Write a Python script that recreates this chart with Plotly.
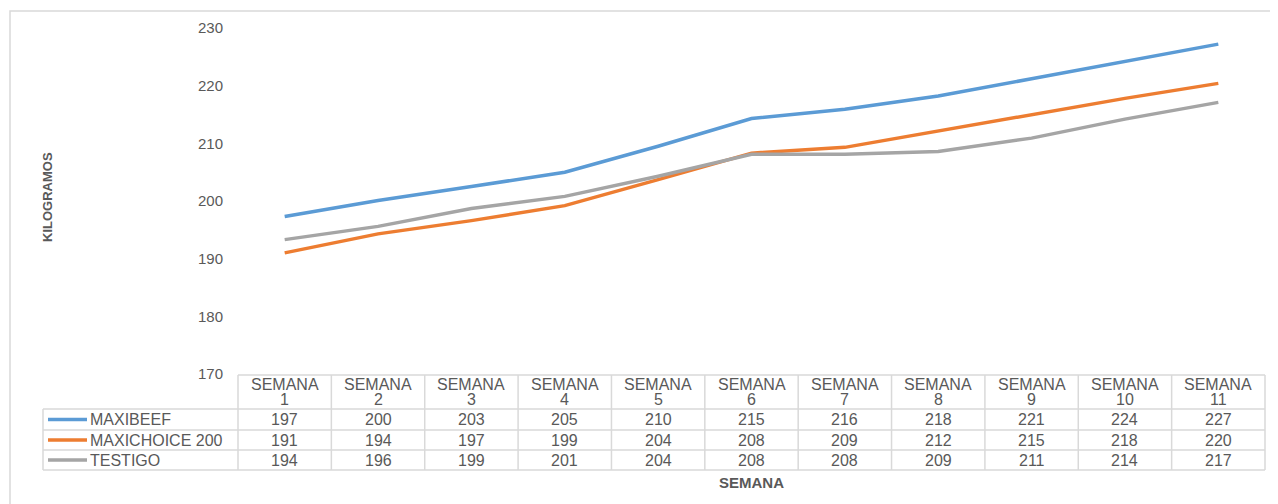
import plotly.graph_objects as go

weeks = ["SEMANA 1", "SEMANA 2", "SEMANA 3", "SEMANA 4", "SEMANA 5", "SEMANA 6",
         "SEMANA 7", "SEMANA 8", "SEMANA 9", "SEMANA 10", "SEMANA 11"]
series_names = ["MAXIBEEF", "MAXICHOICE 200", "TESTIGO"]

maxibeef = [197.3, 200.1, 202.5, 205.0, 209.5, 214.3, 215.9, 218.2, 221.2, 224.2, 227.2]
maxichoice = [191.0, 194.3, 196.6, 199.2, 203.7, 208.3, 209.3, 212.1, 215.0, 217.8, 220.4]
testigo = [193.3, 195.6, 198.7, 200.8, 204.3, 208.1, 208.1, 208.6, 210.9, 214.2, 217.1]

table_maxibeef = [197, 200, 203, 205, 210, 215, 216, 218, 221, 224, 227]
table_maxichoice = [191, 194, 197, 199, 204, 208, 209, 212, 215, 218, 220]
table_testigo = [194, 196, 199, 201, 204, 208, 208, 209, 211, 214, 217]

y_ticks = [170, 180, 190, 200, 210, 220, 230]

colors = ["#5B9BD5", "#ED7D31", "#A5A5A5"]
text_color = "#595959"
grid_color = "#D9D9D9"
FONT = "Liberation Sans, Arial, sans-serif"

# page body has an 8px margin; work in screen pixels and subtract it
OFF = 8
W, H = 1278 - OFF, 504 - OFF
ML, MR, MT, MB = 238 - OFF, 21 - OFF, 28 - OFF, 130
PW = W - ML - MR
PH = H - MT - MB

def px_x(p):
    return (p - OFF - ML) / PW

def px_y(p):
    return (H - MB - (p - OFF)) / PH

fig = go.Figure()
all_series = [maxibeef, maxichoice, testigo]
for name, vals, c in zip(series_names, all_series, colors):
    fig.add_trace(go.Scatter(x=list(range(len(weeks))), y=vals, mode="lines", name=name,
                             line=dict(color=c, width=3.5), showlegend=False))

shapes = []
annotations = []

# outer border
shapes.append(dict(type="rect", xref="paper", yref="paper",
                   x0=px_x(10), x1=px_x(1272), y0=px_y(520), y1=px_y(11),
                   line=dict(color="#D9D9D9", width=1.5), layer="below"))

n = len(weeks)
hdr_top, hdr_bot = 375, 409
row_bounds = [409, 430, 450, 470]
leg_left = 43

def line(x0, y0, x1, y1):
    shapes.append(dict(type="line", xref="paper", yref="paper",
                       x0=x0, x1=x1, y0=y0, y1=y1,
                       line=dict(color=grid_color, width=1.5)))

line(0, px_y(hdr_top), 1, px_y(hdr_top))
for rb in row_bounds:
    line(px_x(leg_left), px_y(rb), 1, px_y(rb))
for i in range(n + 1):
    line(i / n, px_y(hdr_top), i / n, px_y(row_bounds[-1]))
line(px_x(leg_left), px_y(row_bounds[0]), px_x(leg_left), px_y(row_bounds[-1]))

tfont = dict(family=FONT, size=16, color=text_color)

# header text, two lines per cell
for i, w in enumerate(weeks):
    parts = w.split(" ")
    annotations.append(dict(x=i, xref="x", y=px_y(384), yref="paper", text=parts[0],
                            showarrow=False, yanchor="middle", font=tfont))
    annotations.append(dict(x=i, xref="x", y=px_y(399), yref="paper", text=parts[1],
                            showarrow=False, yanchor="middle", font=tfont))

tables = [table_maxibeef, table_maxichoice, table_testigo]
for r, (name, tv, c) in enumerate(zip(series_names, tables, colors)):
    yc = px_y((row_bounds[r] + row_bounds[r + 1]) / 2)
    for i, v in enumerate(tv):
        annotations.append(dict(x=i, xref="x", y=yc, yref="paper", text=str(v),
                                showarrow=False, yanchor="middle", font=tfont))
    shapes.append(dict(type="line", xref="paper", yref="paper",
                       x0=px_x(48), x1=px_x(87), y0=yc, y1=yc,
                       line=dict(color=c, width=3.5)))
    annotations.append(dict(x=px_x(88), xref="paper", y=yc, yref="paper", text=name,
                            showarrow=False, xanchor="left", yanchor="middle", font=tfont))

annotations.append(dict(x=0.5, xref="paper", y=px_y(482), yref="paper", text="<b>SEMANA</b>",
                        showarrow=False, yanchor="middle",
                        font=dict(family=FONT, size=15, color=text_color)))
annotations.append(dict(x=px_x(47), xref="paper", y=px_y(197), yref="paper", text="<b>KILOGRAMOS</b>",
                        showarrow=False, textangle=-90, xanchor="center", yanchor="middle",
                        font=dict(family=FONT, size=13, color=text_color)))

fig.update_layout(
    width=W, height=H,
    margin=dict(l=ML, r=MR, t=MT, b=MB),
    paper_bgcolor="white", plot_bgcolor="white",
    shapes=shapes, annotations=annotations,
    xaxis=dict(range=[-0.5, n - 0.5], showticklabels=False, showgrid=False,
               zeroline=False, showline=False, ticks=""),
    yaxis=dict(range=[170, 230], tickvals=y_ticks, showgrid=False, zeroline=False,
               showline=False, ticks="", ticklabelstandoff=14,
               tickfont=dict(family=FONT, size=15, color=text_color)),
)

fig.write_html("out.html")
